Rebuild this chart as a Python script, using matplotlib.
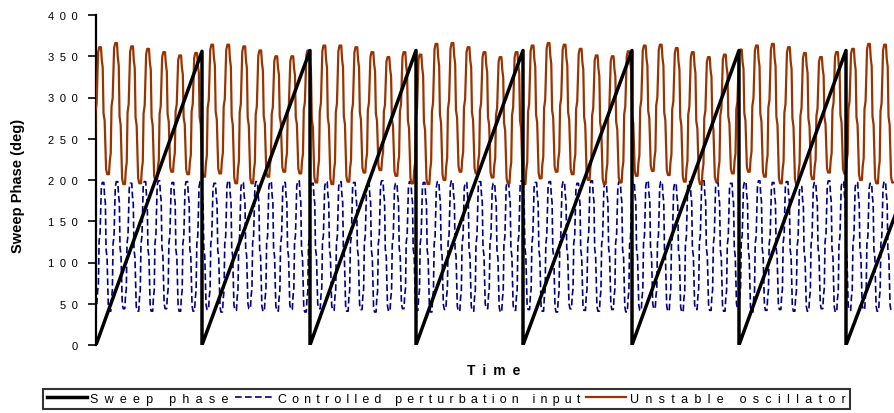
import numpy as np
import matplotlib
matplotlib.use("Agg")
import matplotlib.pyplot as plt

plt.rcParams['font.family'] = ['Liberation Sans', 'DejaVu Sans']

# time axis is arbitrary, one unit ~ one pixel of the original chart
t_max = 798

# sweep phase: sawtooth, reset times and top value of each ramp
sweep_resets = [0, 106, 214, 320, 427, 536, 643, 750]
sweep_tops = [356, 357, 357, 357, 357, 357, 357]
sweep_end_time = 800
sweep_end_value = 160

# unstable oscillator (brown), one peak and one trough per cycle
osc_first_peak = 4.0
osc_period = 16.02
osc_start = 200
osc_peaks = [361, 366, 362, 359, 355, 351, 354, 364, 364, 362, 357, 350, 350, 357, 363,
             363, 361, 355, 349, 355, 352, 365, 366, 361, 355, 349, 355, 363, 366, 364,
             359, 351, 350, 356, 363, 364, 360, 355, 349, 352, 358, 363, 365, 361, 354,
             349, 355, 359, 365, 364]
osc_troughs = [207, 195, 196, 199, 210, 207, 204, 208, 196, 196, 204, 210, 208, 197, 195,
               198, 209, 212, 205, 196, 195, 200, 210, 208, 203, 196, 195, 202, 210, 207,
               200, 195, 197, 205, 211, 206, 198, 195, 198, 208, 210, 204, 196, 195, 201,
               209, 208, 200, 196, 197]

# controlled perturbation input (blue dashed)
pert_first_peak = 7.0
pert_period = 13.96
pert_start = 50
pert_peaks = [197, 198, 196, 198, 199, 197, 198, 198, 196, 199, 197, 198, 198, 197, 199,
              196, 198, 198, 197, 198, 199, 196, 198, 197, 198, 199, 197, 198, 196, 198,
              199, 197, 198, 198, 196, 199, 197, 198, 197, 199, 198, 196, 198, 199, 197,
              196, 198, 199, 197, 198, 192, 197, 199, 198, 197, 196, 198]
pert_troughs = [41, 44, 41, 41, 44, 41, 41, 43, 40, 42, 44, 41, 41, 43, 40,
                44, 42, 41, 43, 40, 41, 44, 42, 40, 43, 41, 41, 44, 40, 42,
                43, 41, 40, 44, 42, 41, 43, 40, 42, 44, 41, 40, 43, 42, 41,
                44, 40, 42, 43, 41, 41, 44, 40, 42, 43, 41, 42]

# stepped look of the sampled traces between two extremes (progress vs fraction of half cycle)
half_steps = [(0.00, 0.00), (0.12, 0.00), (0.22, 0.10), (0.34, 0.16), (0.44, 0.52),
              (0.58, 0.58), (0.76, 0.96), (0.90, 1.00)]

y_ticks = [0, 50, 100, 150, 200, 250, 300, 350, 400]


def build_wave(first_peak, period, start, peaks, troughs):
    levels = [start]
    for p, tr in zip(peaks, troughs):
        levels += [p, tr]
    half = period / 2.0
    t0 = first_peak - half
    ts, vs = [], []
    for i in range(len(levels) - 1):
        a, b = levels[i], levels[i + 1]
        for frac_t, frac_v in half_steps:
            ts.append(t0 + (i + frac_t) * half)
            vs.append(a + frac_v * (b - a))
    ts.append(t0 + (len(levels) - 1) * half)
    vs.append(levels[-1])
    return np.array(ts), np.array(vs)


def build_sweep():
    ts, vs = [], []
    for i in range(len(sweep_tops)):
        ts += [sweep_resets[i], sweep_resets[i + 1]]
        vs += [0, sweep_tops[i]]
    ts += [sweep_resets[-1], sweep_end_time]
    vs += [0, sweep_end_value]
    return ts, vs


def spaced(s, gap='\u2002'):
    # wide letter spacing like the original chart
    return gap.join(s)


fig = plt.figure(figsize=(8.94, 4.14), dpi=100)
ax = fig.add_axes([96 / 894, 68 / 414, 1 - 96 / 894, 330 / 414])

pt, pv = build_wave(pert_first_peak, pert_period, pert_start, pert_peaks, pert_troughs)
ot, ov = build_wave(osc_first_peak, osc_period, osc_start, osc_peaks, osc_troughs)
st, sv = build_sweep()

l_pert, = ax.plot(pt, pv, color='#000080', lw=1.2, linestyle=(0, (4, 2)),
                  label=spaced('Controlled perturbation input', '\u2004\u200a'), zorder=2)
l_osc, = ax.plot(ot, ov, color='#993300', lw=1.6, label=spaced('Unstable oscillator'), zorder=3)
l_sweep, = ax.plot(st, sv, color='black', lw=2.5, label=spaced('Sweep phase'), zorder=4)

ax.set_xlim(0, t_max)
ax.set_ylim(0, 400)
ax.set_xticks([])
ax.set_yticks(y_ticks)
ax.set_yticklabels([spaced(str(v)) for v in y_ticks], fontsize=8)
ax.tick_params(axis='y', direction='out', length=6, width=1.2, pad=7)
for side in ['top', 'right', 'bottom']:
    ax.spines[side].set_visible(False)
ax.spines['left'].set_linewidth(1.6)

fig.text(18 / 894, 1 - 186 / 414, 'Sweep Phase (deg)', rotation=90, fontsize=10.5,
         fontweight='bold', ha='center', va='center')
fig.text(494 / 894, 1 - 371 / 414, spaced('Time'), fontsize=10, fontweight='bold',
         ha='center', va='center')

leg = fig.legend(handles=[l_sweep, l_pert, l_osc], loc='upper left',
                 bbox_to_anchor=(43 / 894, 1 - 390 / 414), ncol=3, fontsize=9,
                 frameon=True, fancybox=False, handlelength=3.2, handletextpad=0.3,
                 columnspacing=0.45, borderpad=0.3, borderaxespad=0)
leg.get_frame().set_edgecolor('black')
leg.get_frame().set_linewidth(1.5)

fig.savefig('out.png', dpi=100)
